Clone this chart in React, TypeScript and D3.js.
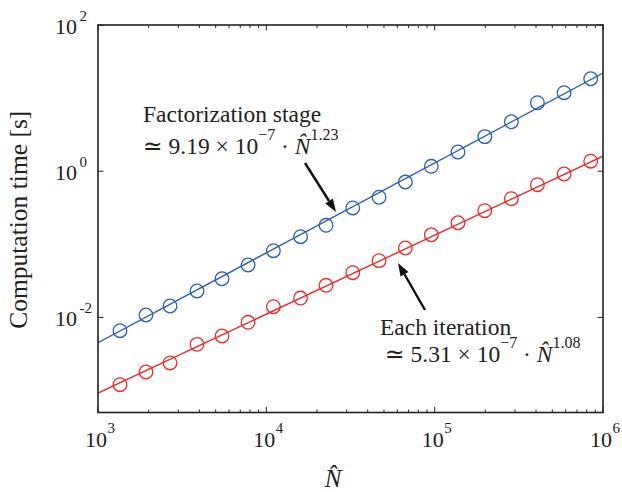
import React from "react";
import * as d3 from "d3";

// Problem sizes (N-hat) for each run
const nValues = [1351, 1928, 2679, 3875, 5454, 7787, 11010, 15970, 22630, 32610, 46740, 66990, 95560, 137600, 198500, 285500, 407700, 587300, 845000];
// Factorization stage times [s]
const factTimes = [0.00658, 0.01079, 0.01432, 0.02297, 0.0338, 0.0521, 0.0817, 0.127, 0.182, 0.314, 0.44, 0.711, 1.167, 1.83, 2.97, 4.75, 8.65, 11.85, 18.4];
// Each iteration times [s]
const iterTimes = [0.0012, 0.00179, 0.00238, 0.00428, 0.00557, 0.00857, 0.014, 0.0184, 0.0275, 0.0409, 0.0597, 0.089, 0.135, 0.197, 0.288, 0.421, 0.654, 0.916, 1.37];
// Fitted power-law lines, read at the ends of the x range
const fitX = [1e3, 1e6];
const factFit = [0.0045, 22.05];
const iterFit = [0.000923, 1.604];
// Tick values
const xMajor = [1e3, 1e4, 1e5, 1e6];
const xExp = ["3", "4", "5", "6"];
const yMajor = [1e-2, 1e0, 1e2];
const yExp = ["-2", "0", "2"];

const W = 622, H = 492;
const L = 98, R = 603, T = 25, B = 412.5;
const BLUE = "#2b5fb1";
const RED = "#ec2b2b";
const AX = "#222";
const FONT = "Liberation Serif, Tinos, DejaVu Serif, serif";
const fs = (size: number, extra: React.CSSProperties = {}): React.CSSProperties => ({ fontFamily: FONT, fontSize: size + "px", ...extra });

function Arrow({ x1, y1, x2, y2 }: { x1: number; y1: number; x2: number; y2: number }) {
  const ang = Math.atan2(y2 - y1, x2 - x1);
  const hl = 13, hw = 4.5;
  const bx = x2 - hl * Math.cos(ang), by = y2 - hl * Math.sin(ang);
  const px = -Math.sin(ang) * hw, py = Math.cos(ang) * hw;
  return (
    <g>
      <line x1={x1} y1={y1} x2={bx} y2={by} stroke="#111" strokeWidth={2.4} />
      <polygon points={`${x2},${y2} ${bx + px},${by + py} ${bx - px},${by - py}`} fill="#111" />
    </g>
  );
}

function Formula({ x, y, coef, exp }: { x: number; y: number; coef: string; exp: string }) {
  return (
    <text x={x} y={y} style={fs(23.5)} fill="#222">
      <tspan>{"≃ " + coef + " × 10"}</tspan>
      <tspan dy={-14} style={fs(16)}>−7</tspan>
      <tspan dy={14}>{" · "}</tspan>
      <tspan style={fs(23.5, { fontStyle: "italic" })}>{"N\u0302"}</tspan>
      <tspan dy={-14} style={fs(16)}>{exp}</tspan>
    </text>
  );
}

export default function App() {
  const x = d3.scaleLog().domain([1e3, 1e6]).range([L, R]);
  const y = d3.scaleLog().domain([5e-4, 100]).range([B, T]);

  const minor: number[] = [];
  for (let e = 3; e < 6; e++) for (let m = 2; m <= 9; m++) minor.push(m * Math.pow(10, e));

  const line = d3.line<[number, number]>().x((d) => x(d[0])).y((d) => y(d[1]));
  const factLine = line(fitX.map((v, i) => [v, factFit[i]] as [number, number])) || "";
  const iterLine = line(fitX.map((v, i) => [v, iterFit[i]] as [number, number])) || "";

  return (
    <svg width={W} height={H} style={{ position: "absolute", left: 0, top: 0, background: "#fff" }}>
      <defs>
        <clipPath id="plotclip">
          <rect x={L} y={T} width={R - L} height={B - T} />
        </clipPath>
      </defs>
      <g clipPath="url(#plotclip)">
        <path d={factLine} stroke={BLUE} strokeWidth={1.4} fill="none" />
        <path d={iterLine} stroke={RED} strokeWidth={1.4} fill="none" />
        {nValues.map((n, i) => (
          <circle key={"b" + i} cx={x(n)} cy={y(factTimes[i])} r={6.8} fill="none" stroke={BLUE} strokeWidth={1.3} />
        ))}
        {nValues.map((n, i) => (
          <circle key={"r" + i} cx={x(n)} cy={y(iterTimes[i])} r={6.8} fill="none" stroke={RED} strokeWidth={1.3} />
        ))}
      </g>

      {minor.map((v, i) => (
        <g key={"m" + i} stroke={AX} strokeWidth={1}>
          <line x1={x(v)} x2={x(v)} y1={B} y2={B - 3} />
          <line x1={x(v)} x2={x(v)} y1={T} y2={T + 3} />
        </g>
      ))}
      {xMajor.map((v, i) => (
        <g key={"xm" + i} stroke={AX} strokeWidth={1}>
          <line x1={x(v)} x2={x(v)} y1={B} y2={B - 5.5} />
          <line x1={x(v)} x2={x(v)} y1={T} y2={T + 5.5} />
        </g>
      ))}
      {yMajor.map((v, i) => (
        <g key={"ym" + i} stroke={AX} strokeWidth={1}>
          <line x1={L} x2={L + 5.5} y1={y(v)} y2={y(v)} />
          <line x1={R} x2={R - 5.5} y1={y(v)} y2={y(v)} />
        </g>
      ))}

      <rect x={L} y={T} width={R - L} height={B - T} fill="none" stroke={AX} strokeWidth={1.6} />

      {xMajor.map((v, i) => (
        <g key={"xl" + i} fill="#222">
          <text x={x(v) + 9} y={B + 34} style={fs(22)} textAnchor="end">10</text>
          <text x={x(v) + 9.5} y={B + 20.5} style={fs(15)}>{xExp[i]}</text>
        </g>
      ))}
      {yMajor.map((v, i) => (
        <g key={"yl" + i} fill="#222">
          <text x={L - 21} y={y(v) + 8.5} style={fs(22)} textAnchor="end">10</text>
          <text x={L - 18.5} y={y(v) - 4} style={fs(15)}>{yExp[i]}</text>
        </g>
      ))}

      <text transform={`translate(27,${(T + B) / 2 + 1}) rotate(-90)`} style={fs(25.5)} textAnchor="middle" fill="#222">
        Computation time [s]
      </text>
      <text x={333} y={487} style={fs(25, { fontStyle: "italic" })} textAnchor="middle" fill="#222">
        {"N\u0302"}
      </text>

      <text x={143} y={122} style={fs(23.5)} fill="#222">Factorization stage</text>
      <Formula x={143} y={154} coef="9.19" exp="1.23" />
      <text x={380} y={335} style={fs(23.5)} fill="#222">Each iteration</text>
      <Formula x={385} y={362} coef="5.31" exp="1.08" />

      <Arrow x1={305} y1={163} x2={336} y2={212} />
      <Arrow x1={425} y1={310} x2={398} y2={263} />
    </svg>
  );
}
